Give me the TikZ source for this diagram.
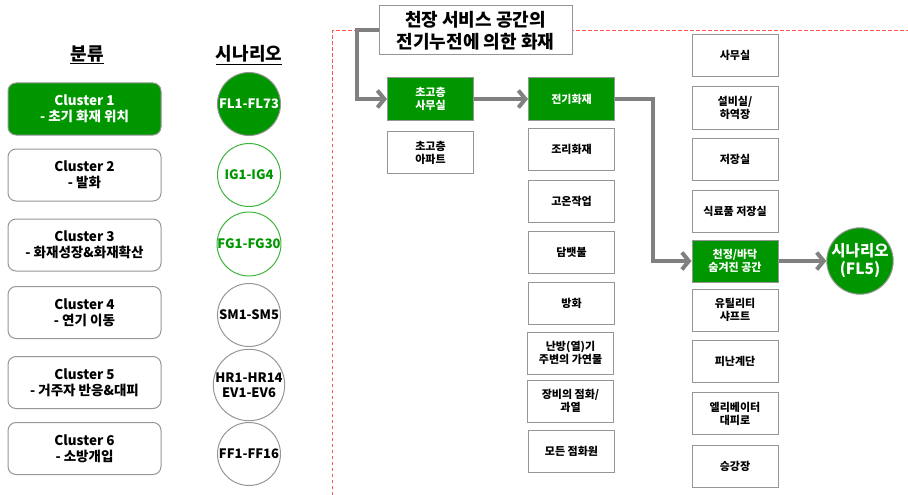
\documentclass[tikz,border=0pt]{standalone}
\usepackage{fontspec}
\setmainfont{Noto Sans CJK KR}
\usetikzlibrary{arrows.meta}
\definecolor{mygreen}{RGB}{0,150,0}
\definecolor{lightgreen}{RGB}{60,180,60}
\definecolor{bordergray}{RGB}{150,150,150}
\definecolor{flowgray}{RGB}{128,128,128}
\definecolor{dashred}{RGB}{255,85,85}
\begin{document}
\begin{tikzpicture}[x=1pt,y=-1pt,
 cl/.style={draw=bordergray, line width=1pt, rounded corners=8pt, minimum width=153pt, minimum height=52pt, align=center, inner sep=0pt, font=\bfseries\fontsize{13.5}{16}\selectfont},
 sc/.style={circle, draw=bordergray, line width=1pt, minimum size=63pt, inner sep=0pt, align=center, font=\bfseries\fontsize{13}{15}\selectfont},
 bx/.style={draw=bordergray, line width=1pt, minimum width=86pt, minimum height=42pt, align=center, inner sep=0pt, font=\bfseries\fontsize{11}{13}\selectfont},
 gbx/.style={bx, fill=mygreen, text=white},
 hdr/.style={font=\bfseries\fontsize{18}{20}\selectfont},
 flow/.style={draw=flowgray, line width=4pt, -{Straight Barb[length=7pt,width=17pt]}}
]
\useasboundingbox (0,0) rectangle (908,495);

% headers
\node[hdr] (h1) at (87,55) {\underline{분류}};
\node[hdr] (h2) at (249,55) {\underline{시나리오}};

% clusters
\node[cl, fill=mygreen, text=white] (c1) at (84.5,109) {Cluster 1\\- 초기 화재 위치};
\node[cl] (c2) at (84.5,175) {Cluster 2\\- 발화};
\node[cl] (c3) at (84.5,245) {Cluster 3\\- 화재성장\&화재확산};
\node[cl] (c4) at (84.5,312.5) {Cluster 4\\- 연기 이동};
\node[cl] (c5) at (84.5,382.5) {Cluster 5\\- 거주자 반응\&대피};
\node[cl] (c6) at (84.5,448.5) {Cluster 6\\- 소방개입};

% scenario circles
\node[sc, fill=mygreen, text=white] (s1) at (249,104) {FL1-FL73};
\node[sc, draw=lightgreen, text=mygreen] (s2) at (249,175) {IG1-IG4};
\node[sc, draw=lightgreen, text=mygreen] (s3) at (249,244) {FG1-FG30};
\node[sc] (s4) at (249,315) {SM1-SM5};
\node[sc] (s5) at (249,385) {HR1-HR14\\EV1-EV6};
\node[sc] (s6) at (249,454) {FF1-FF16};

% dashed frame
\coordinate (dl) at (332,495);
\coordinate (dc) at (332,31);
\coordinate (dr) at (908,31);
\draw[dashred, line width=1pt, dash pattern=on 3.5pt off 2.5pt] (dl) -- (dc) -- (dr);

% title
\node[draw=bordergray, line width=1pt, fill=white, minimum width=193pt, minimum height=49pt, align=center, inner sep=0pt, font=\bfseries\fontsize{18}{22}\selectfont] (title) at (475.5,30.5) {천장 서비스 공간의\\전기누전에 의한 화재};

% column 1
\node[gbx] (office) at (430.5,99) {초고층\\사무실};
\node[bx] (apt) at (430.5,152.5) {초고층\\아파트};

% column 2
\node[gbx] (elec) at (571.5,99) {전기화재};
\node[bx] (cook) at (571.5,149) {조리화재};
\node[bx] (hot) at (571.5,201) {고온작업};
\node[bx] (cig) at (571.5,252.5) {담뱃불};
\node[bx] (arson) at (571.5,303) {방화};
\node[bx] (heater) at (570.5,353) {난방(열)기\\주변의 가연물};
\node[bx] (equip) at (570.5,401) {장비의 점화/\\과열};
\node[bx] (anyig) at (571.5,451) {모든 점화원};

% column 3
\node[bx] (r1) at (735,55.5) {사무실};
\node[bx] (r2) at (735,108) {설비실/\\하역장};
\node[bx] (r3) at (735,159) {저장실};
\node[bx] (r4) at (735,211.5) {식료품 저장실};
\node[gbx] (ceil) at (735,261) {천정/바닥\\숨겨진 공간};
\node[bx] (r6) at (735,310) {유틸리티\\샤프트};
\node[bx] (r7) at (735,361.5) {피난계단};
\node[bx] (r8) at (735,413.5) {엘리베이터\\대피로};
\node[bx] (r9) at (735,466) {승강장};

% final scenario
\node[circle, draw=bordergray, line width=1pt, fill=mygreen, text=white, minimum size=65pt, inner sep=0pt, align=center, font=\bfseries\fontsize{15.5}{18}\selectfont] (scen) at (860,261) {시나리오\\(FL5)};

% flows
\draw[flow] (title.west) -- ++(-22,0) |- (office.west);
\draw[flow] (office.east) -- (elec.west);
\draw[flow] (elec.east) -- ++(38,0) |- (ceil.west);
\draw[flow] (ceil.east) -- (scen.west);
\end{tikzpicture}
\end{document}
